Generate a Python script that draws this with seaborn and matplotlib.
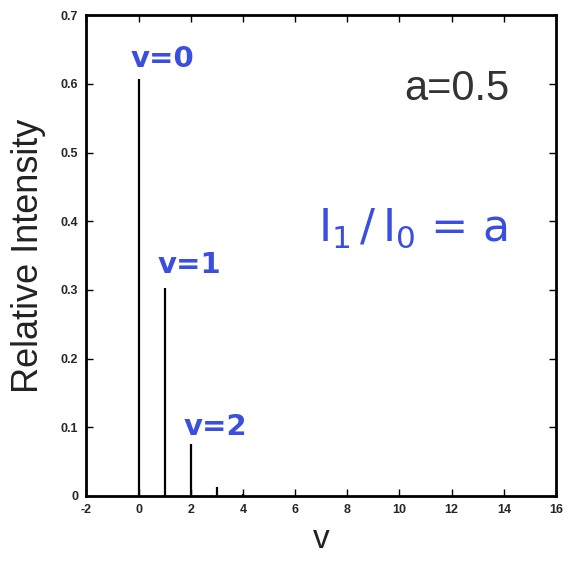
import numpy as np
import matplotlib
matplotlib.use("Agg")
import matplotlib.pyplot as plt
import seaborn as sns

# Poisson-like progression, a = 0.5
levels = [0, 1, 2, 3, 4]
intensity = [0.607, 0.303, 0.076, 0.013, 0.002]
xticks = [-2, 0, 2, 4, 6, 8, 10, 12, 14, 16]
yticks = [0, 0.1, 0.2, 0.3, 0.4, 0.5, 0.6, 0.7]
ytick_labels = ["0", "0.1", "0.2", "0.3", "0.4", "0.5", "0.6", "0.7"]
notes = ["v=0", "v=1", "v=2"]
note_pos = [(0.9, 0.637), (1.95, 0.336), (2.95, 0.100)]

sns.set_theme(style="ticks")
plt.rcParams["font.family"] = ["Liberation Sans", "DejaVu Sans"]

fig = plt.figure(figsize=(5.68, 5.66), dpi=100)
ax = fig.add_axes([0.152, 0.124, 0.827, 0.849])

ax.vlines(levels, 0, intensity, color="black", linewidth=1.6)

ax.set_xlim(-2, 16)
ax.set_ylim(0, 0.7)
ax.set_xticks(xticks)
ax.set_yticks(yticks)
ax.set_xticklabels([str(t) for t in xticks], fontsize=9, fontweight="bold")
ax.set_yticklabels(ytick_labels, fontsize=9, fontweight="bold")
ax.tick_params(direction="in", top=True, right=True, length=5, width=1,
               color="black", labeltop=False, labelright=False, pad=6)
for sp in ax.spines.values():
    sp.set_linewidth(2)
    sp.set_color("black")

ax.set_ylabel("Relative Intensity", fontsize=26, color="#222222", labelpad=10)
ax.set_xlabel("v", fontsize=24, color="#222222", labelpad=6)

hand = "#3a4fe0"
for txt, (x, y) in zip(notes, note_pos):
    ax.text(x, y, txt, color=hand, fontsize=21, ha="center", va="center",
            family="DejaVu Sans", fontweight="semibold")
ax.text(10.5, 0.39, r"$\mathregular{I_1\,/\,I_0}$ = a", color=hand, fontsize=32,
        ha="center", va="center", family="DejaVu Sans")
ax.text(12.2, 0.593, "a=0.5", color="#333333", fontsize=30,
        ha="center", va="center")

fig.savefig("out.png", dpi=100)
